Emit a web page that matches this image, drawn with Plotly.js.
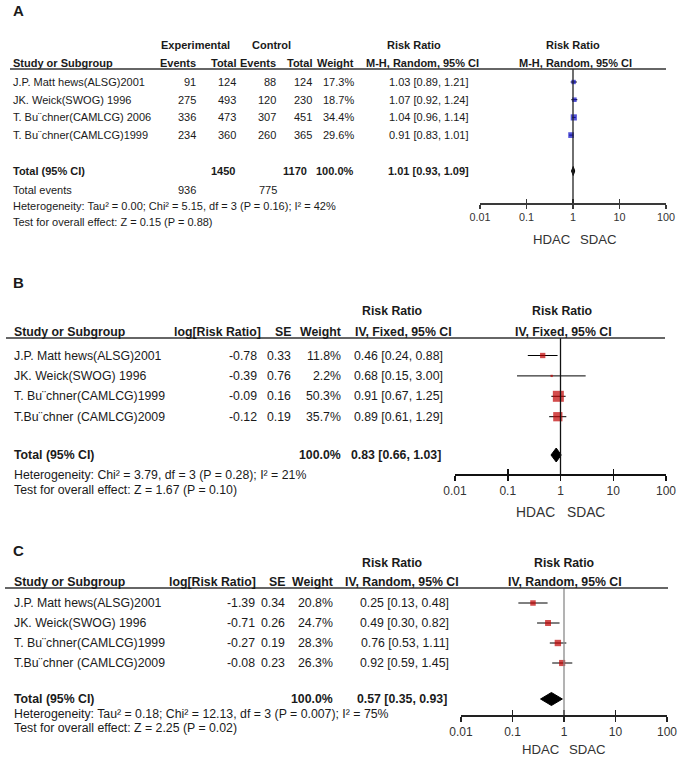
<!DOCTYPE html>
<html>
<head>
<meta charset="utf-8">
<script src="https://cdn.plot.ly/plotly-3.0.1.min.js"></script>
<style>html,body{margin:0;padding:0;background:#fff;}#chart{width:680px;height:763px;}</style>
</head>
<body>
<div id="chart"></div>
<script>
// ---------------- DATA ----------------
// Panel A
const studiesA = ['J.P. Matt hews(ALSG)2001', 'JK. Weick(SWOG) 1996', 'T. Bu\u00A8chner(CAMLCG) 2006', 'T. Bu\u00A8chner(CAMLCG)1999'];
const expEventsA = [91, 275, 336, 234];
const expTotalA = [124, 493, 473, 360];
const ctrlEventsA = [88, 120, 307, 260];
const ctrlTotalA = [124, 230, 451, 365];
const weightA = [17.3, 18.7, 34.4, 29.6];
const rrA = [1.03, 1.07, 1.04, 0.91];
const loA = [0.89, 0.92, 0.96, 0.83];
const hiA = [1.21, 1.24, 1.14, 1.01];
const totalA = [1.01, 0.93, 1.09];
const hetA = 'Heterogeneity: Tau\u00B2 = 0.00; Chi\u00B2 = 5.15, df = 3 (P = 0.16); I\u00B2 = 42%';
const testA = 'Test for overall effect: Z = 0.15 (P = 0.88)';

// Panel B
const studiesB = ['J.P. Matt hews(ALSG)2001', 'JK. Weick(SWOG) 1996', 'T. Bu\u00A8chner(CAMLCG)1999', 'T.Bu\u00A8chner (CAMLCG)2009'];
const logRRB = [-0.78, -0.39, -0.09, -0.12];
const seB = [0.33, 0.76, 0.16, 0.19];
const weightB = [11.8, 2.2, 50.3, 35.7];
const rrB = [0.46, 0.68, 0.91, 0.89];
const loB = [0.24, 0.15, 0.67, 0.61];
const hiB = [0.88, 3.00, 1.25, 1.29];
const totalB = [0.83, 0.66, 1.03];
const hetB = 'Heterogeneity: Chi\u00B2 = 3.79, df = 3 (P = 0.28); I\u00B2 = 21%';
const testB = 'Test for overall effect: Z = 1.67 (P = 0.10)';

// Panel C
const studiesC = ['J.P. Matt hews(ALSG)2001', 'JK. Weick(SWOG) 1996', 'T. Bu\u00A8chner(CAMLCG)1999', 'T.Bu\u00A8chner (CAMLCG)2009'];
const logRRC = [-1.39, -0.71, -0.27, -0.08];
const seC = [0.34, 0.26, 0.19, 0.23];
const weightC = [20.8, 24.7, 28.3, 26.3];
const rrC = [0.25, 0.49, 0.76, 0.92];
const loC = [0.13, 0.30, 0.53, 0.59];
const hiC = [0.48, 0.82, 1.11, 1.45];
const totalC = [0.57, 0.35, 0.93];
const hetC = 'Heterogeneity: Tau\u00B2 = 0.18; Chi\u00B2 = 12.13, df = 3 (P = 0.007); I\u00B2 = 75%';
const testC = 'Test for overall effect: Z = 2.25 (P = 0.02)';

const tickVals = [0.01, 0.1, 1, 10, 100];
const tickText = ['0.01', '0.1', '1', '10', '100'];
const favLabels = ['HDAC', 'SDAC'];

// ---------------- LAYOUT HELPERS ----------------
const W = 680, H = 763;
const FONT = '"Liberation Sans", Arial, sans-serif';
const TXT = '#1a1a1a';
const px = x => x / W;
const py = y => 1 - y / H;
const annotations = [];
const shapes = [];
function ann(text, x, y, anchor, size, bold, opts) {
  opts = opts || {};
  annotations.push({
    text: bold ? '<b>' + text + '</b>' : text,
    x: px(x), y: py(y), xref: 'paper', yref: 'paper',
    xanchor: anchor, yanchor: 'middle', showarrow: false, borderpad: 0,
    font: {family: FONT, size: size, color: opts.color || TXT}
  });
}
const ciText = (r, l, h) => r.toFixed(2) + ' [' + l.toFixed(2) + ', ' + h.toFixed(2) + ']';
const sum = a => a.reduce((s, v) => s + v, 0);

// panel geometry (pixels)
const P = {
  A: {xl: 480, xr: 666, top: 69, bot: 203, y0: 82, dy: 17.7, totY: 171, color: '#0a0ac8', k: 1.05, dh: 4.5, ax: '#3a3a3a', vline: '#222', tick: 10.8, tl: 4},
  B: {xl: 455, xr: 666, top: 338, bot: 474, y0: 355.5, dy: 20.4, totY: 455, color: '#c00000', k: 1.55, dh: 7, ax: '#111', vline: '#111', tick: 12, tl: 5},
  C: {xl: 461, xr: 667, top: 588, bot: 715, y0: 603, dy: 20, totY: 699, color: '#c00000', k: 1.2, dh: 6.5, ax: '#222', vline: '#8a8a8a', tick: 12, tl: 5}
};
const rowY = (p, i) => p.y0 + i * p.dy;               // pixel of row i (0-based)
const idxOf = (p, pix) => 1 + (pix - p.y0) / p.dy;      // data index of a pixel row

const traces = [];
const layout = {
  width: W, height: H, margin: {l: 0, r: 0, t: 0, b: 0},
  paper_bgcolor: '#fff', plot_bgcolor: 'rgba(0,0,0,0)',
  showlegend: false, hovermode: false,
  annotations: annotations, shapes: shapes
};

function buildPanel(key, n, rr, lo, hi, w, tot) {
  const p = P[key];
  const xa = n === 1 ? 'x' : 'x' + n, ya = n === 1 ? 'y' : 'y' + n;
  const xo = 'x' + (n + 3);
  const xaKey = n === 1 ? 'xaxis' : 'xaxis' + n, yaKey = n === 1 ? 'yaxis' : 'yaxis' + n;
  const common = {type: 'log', range: [-2, 2], tickvals: tickVals, fixedrange: true, showgrid: false, zeroline: false};
  layout[xaKey] = Object.assign({}, common, {
    domain: [px(p.xl), px(p.xr)], anchor: ya,
    showline: true, linecolor: p.ax, linewidth: 1.5,
    ticks: 'outside', ticklen: p.tl, tickwidth: 1.5, tickcolor: p.ax,
    ticktext: tickText, tickfont: {family: FONT, size: p.tick, color: '#333'}
  });
  layout['xaxis' + (n + 3)] = Object.assign({}, common, {
    overlaying: xa, anchor: ya, side: 'bottom', showline: false,
    ticks: 'inside', ticklen: p.tl, tickwidth: 1.5, tickcolor: p.ax, showticklabels: false
  });
  layout[yaKey] = {domain: [py(p.bot), py(p.top)], range: [idxOf(p, p.bot), idxOf(p, p.top)], visible: false, fixedrange: true};
  traces.push({type: 'scatter', x: [], y: [], xaxis: xo, yaxis: ya, hoverinfo: 'skip'});

  const idx = rr.map((_, i) => i + 1);
  traces.push({
    type: 'scatter', mode: 'markers', x: rr, y: idx, xaxis: xa, yaxis: ya,
    marker: {symbol: 'square', size: w.map(v => p.k * Math.sqrt(v)), color: p.color, line: {width: 0}},
    error_x: {type: 'data', symmetric: false, array: hi.map((h, i) => h - rr[i]), arrayminus: lo.map((l, i) => rr[i] - l), color: '#000', thickness: 1, width: 0},
    hoverinfo: 'skip'
  });
  const ti = idxOf(p, p.totY), hh = p.dh / p.dy;
  traces.push({
    type: 'scatter', mode: 'lines', x: [tot[1], tot[0], tot[2], tot[0], tot[1]], y: [ti, ti - hh, ti, ti + hh, ti],
    xaxis: xa, yaxis: ya, fill: 'toself', fillcolor: '#000', line: {color: '#000', width: 1}, hoverinfo: 'skip'
  });
  shapes.push({type: 'line', xref: xa, yref: ya + ' domain', x0: 1, x1: 1, y0: 0, y1: 1, line: {color: p.vline, width: 1.3}});
}

buildPanel('A', 1, rrA, loA, hiA, weightA, totalA);
buildPanel('B', 2, rrB, loB, hiB, weightB, totalB);
buildPanel('C', 3, rrC, loC, hiC, weightC, totalC);

// header rules
shapes.push({type: 'line', xref: 'paper', yref: 'paper', x0: px(10), x1: px(666), y0: py(69), y1: py(69), line: {color: '#333', width: 1.4}});
shapes.push({type: 'line', xref: 'paper', yref: 'paper', x0: px(6), x1: px(665), y0: py(338), y1: py(338), line: {color: '#333', width: 1.4}});
shapes.push({type: 'line', xref: 'paper', yref: 'paper', x0: px(5), x1: px(668), y0: py(588), y1: py(588), line: {color: '#333', width: 1.4}});

// ---------------- PANEL A TEXT ----------------
(function () {
  const p = P.A, fs = 11;
  ann('A', 12, 10, 'left', 15, true);
  ann('Experimental', 196, 45, 'center', fs, true);
  ann('Control', 271, 45, 'center', fs, true);
  ann('Risk Ratio', 414, 45, 'center', fs, true);
  ann('Risk Ratio', 573, 45, 'center', fs, true);
  ann('Study or Subgroup', 12, 63, 'left', fs, true);
  ann('Events', 197, 63, 'right', fs, true);
  ann('Total', 237, 63, 'right', fs, true);
  ann('Events', 277, 63, 'right', fs, true);
  ann('Total', 313, 63, 'right', fs, true);
  ann('Weight', 355, 63, 'right', fs, true);
  ann('M-H, Random, 95% CI', 422, 63, 'center', fs, true);
  ann('M-H, Random, 95% CI', 575, 63, 'center', fs, true);
  studiesA.forEach((s, i) => {
    const y = rowY(p, i);
    ann(s, 12, y, 'left', fs);
    ann(String(expEventsA[i]), 197, y, 'right', fs);
    ann(String(expTotalA[i]), 237, y, 'right', fs);
    ann(String(ctrlEventsA[i]), 277, y, 'right', fs);
    ann(String(ctrlTotalA[i]), 313, y, 'right', fs);
    ann(weightA[i].toFixed(1) + '%', 355, y, 'right', fs);
    ann(ciText(rrA[i], loA[i], hiA[i]), 470, y, 'right', fs);
  });
  ann('Total (95% CI)', 12, p.totY, 'left', fs, true);
  ann(String(sum(expTotalA)), 236, p.totY, 'right', fs, true);
  ann(String(sum(ctrlTotalA)), 308, p.totY, 'right', fs, true);
  ann('100.0%', 355, p.totY, 'right', fs, true);
  ann(ciText(totalA[0], totalA[1], totalA[2]), 470, p.totY, 'right', fs, true);
  ann('Total events', 12, 190, 'left', fs);
  ann(String(sum(expEventsA)), 197, 190, 'right', fs);
  ann(String(sum(ctrlEventsA)), 278, 190, 'right', fs);
  ann(hetA, 12, 206, 'left', fs);
  ann(testA, 12, 222, 'left', fs);
  ann(favLabels[0], 552, 240, 'center', 13.2, false, {color: '#333'});
  ann(favLabels[1], 598, 240, 'center', 13.2, false, {color: '#333'});
})();

// ---------------- PANEL B TEXT ----------------
(function () {
  const p = P.B, fs = 12.3;
  ann('B', 12, 282, 'left', 15, true);
  ann('Risk Ratio', 393, 311, 'center', fs, true);
  ann('Risk Ratio', 562, 311, 'center', fs, true);
  ann('Study or Subgroup', 13, 332, 'left', fs, true);
  ann('log[Risk Ratio]', 262, 332, 'right', fs, true);
  ann('SE', 292, 332, 'right', fs, true);
  ann('Weight', 342, 332, 'right', fs, true);
  ann('IV, Fixed, 95% CI', 403, 332, 'center', fs, true);
  ann('IV, Fixed, 95% CI', 563, 332, 'center', fs, true);
  studiesB.forEach((s, i) => {
    const y = rowY(p, i);
    ann(s, 13, y, 'left', fs);
    ann(logRRB[i].toFixed(2), 258, y, 'right', fs);
    ann(seB[i].toFixed(2), 292, y, 'right', fs);
    ann(weightB[i].toFixed(1) + '%', 342, y, 'right', fs);
    ann(ciText(rrB[i], loB[i], hiB[i]), 444, y, 'right', fs);
  });
  ann('Total (95% CI)', 13, p.totY, 'left', fs, true);
  ann('100.0%', 342, p.totY, 'right', fs, true);
  ann(ciText(totalB[0], totalB[1], totalB[2]), 442, p.totY, 'right', fs, true);
  ann(hetB, 13, 475, 'left', fs);
  ann(testB, 13, 490, 'left', fs);
  ann(favLabels[0], 535, 512, 'center', 13.8, false, {color: '#333'});
  ann(favLabels[1], 586, 512, 'center', 13.8, false, {color: '#333'});
})();

// ---------------- PANEL C TEXT ----------------
(function () {
  const p = P.C, fs = 12.3;
  ann('C', 12, 550, 'left', 15, true);
  ann('Risk Ratio', 393, 563, 'center', fs, true);
  ann('Risk Ratio', 564, 563, 'center', fs, true);
  ann('Study or Subgroup', 13, 582, 'left', fs, true);
  ann('log[Risk Ratio]', 257, 582, 'right', fs, true);
  ann('SE', 286, 582, 'right', fs, true);
  ann('Weight', 334, 582, 'right', fs, true);
  ann('IV, Random, 95% CI', 402, 582, 'center', fs, true);
  ann('IV, Random, 95% CI', 565, 582, 'center', fs, true);
  studiesC.forEach((s, i) => {
    const y = rowY(p, i);
    ann(s, 13, y, 'left', fs);
    ann(logRRC[i].toFixed(2), 256, y, 'right', fs);
    ann(seC[i].toFixed(2), 286, y, 'right', fs);
    ann(weightC[i].toFixed(1) + '%', 334, y, 'right', fs);
    ann(ciText(rrC[i], loC[i], hiC[i]), 450, y, 'right', fs);
  });
  ann('Total (95% CI)', 13, p.totY, 'left', fs, true);
  ann('100.0%', 334, p.totY, 'right', fs, true);
  ann(ciText(totalC[0], totalC[1], totalC[2]), 448, p.totY, 'right', fs, true);
  ann(hetC, 13, 714, 'left', fs);
  ann(testC, 13, 728, 'left', fs);
  ann(favLabels[0], 541, 749, 'center', 13.2, false, {color: '#333'});
  ann(favLabels[1], 587, 749, 'center', 13.2, false, {color: '#333'});
})();

Plotly.newPlot('chart', traces, layout, {staticPlot: true, displayModeBar: false});
</script>
</body>
</html>
